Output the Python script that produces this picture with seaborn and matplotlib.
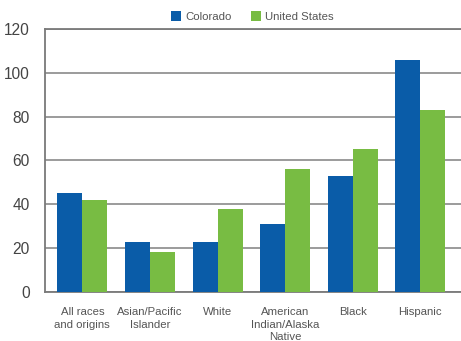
import matplotlib
matplotlib.use("Agg")
import matplotlib.pyplot as plt
from matplotlib.patches import Patch
from matplotlib.ticker import FixedLocator
import seaborn as sns
import pandas as pd

categories = ["All races\nand origins", "Asian/Pacific\nIslander", "White",
              "American\nIndian/Alaska\nNative", "Black", "Hispanic"]
colorado = [45, 23, 23, 31, 53, 106]
united_states = [42, 18, 38, 56, 65, 83]
series = ["Colorado", "United States"]
y_ticks = [0, 20, 40, 60, 80, 100, 120]

df = pd.DataFrame({
    "group": categories * 2,
    "rate": colorado + united_states,
    "area": [series[0]] * len(categories) + [series[1]] * len(categories),
})

sns.set_style("white")
plt.rcParams["font.family"] = ["Liberation Sans", "DejaVu Sans"]

palette = {"Colorado": "#0a5ca8", "United States": "#78bc43"}

fig = plt.figure(figsize=(4.61, 3.41), dpi=100)
ax = fig.add_axes([0.098, 0.144, 0.902, 0.771])

sns.barplot(data=df, x="group", y="rate", hue="area", palette=palette,
            width=0.74, saturation=1, ax=ax, legend=False, zorder=3,
            linewidth=0, edgecolor="none")

ax.set_ylim(0, 120)
ax.set_xlim(-0.55, 5.6)
ax.set_yticks(y_ticks)
ax.yaxis.grid(True, color="#808080", linewidth=1.1, zorder=0)
ax.set_axisbelow(True)
ax.set_xlabel("")
ax.set_ylabel("")

for side in ["left", "top", "bottom"]:
    ax.spines[side].set_visible(True)
    ax.spines[side].set_color("#7a7a7a")
    ax.spines[side].set_linewidth(1.3)
ax.spines["right"].set_visible(False)

ax.tick_params(axis="y", direction="in", length=0, labelsize=11.2,
               labelcolor="#444444", pad=11)
ax.tick_params(axis="x", which="major", length=0, labelsize=8.2,
               labelcolor="#555555", pad=11)
for lbl in ax.get_xticklabels():
    lbl.set_linespacing(1.32)
ax.xaxis.set_minor_locator(FixedLocator([i + 0.5 for i in range(len(categories) - 1)]))
ax.tick_params(axis="x", which="minor", direction="in", length=4,
               color="#555555", width=1)

handles = [Patch(facecolor=palette[s], edgecolor="none") for s in series]
fig.legend(handles, series, loc="center", bbox_to_anchor=(0.548, 0.951),
           ncol=2, frameon=False, fontsize=8.2, handlelength=0.9,
           handleheight=0.9, handletextpad=0.35, columnspacing=1.7,
           labelcolor="#555555")

fig.savefig("out.png", dpi=100)
